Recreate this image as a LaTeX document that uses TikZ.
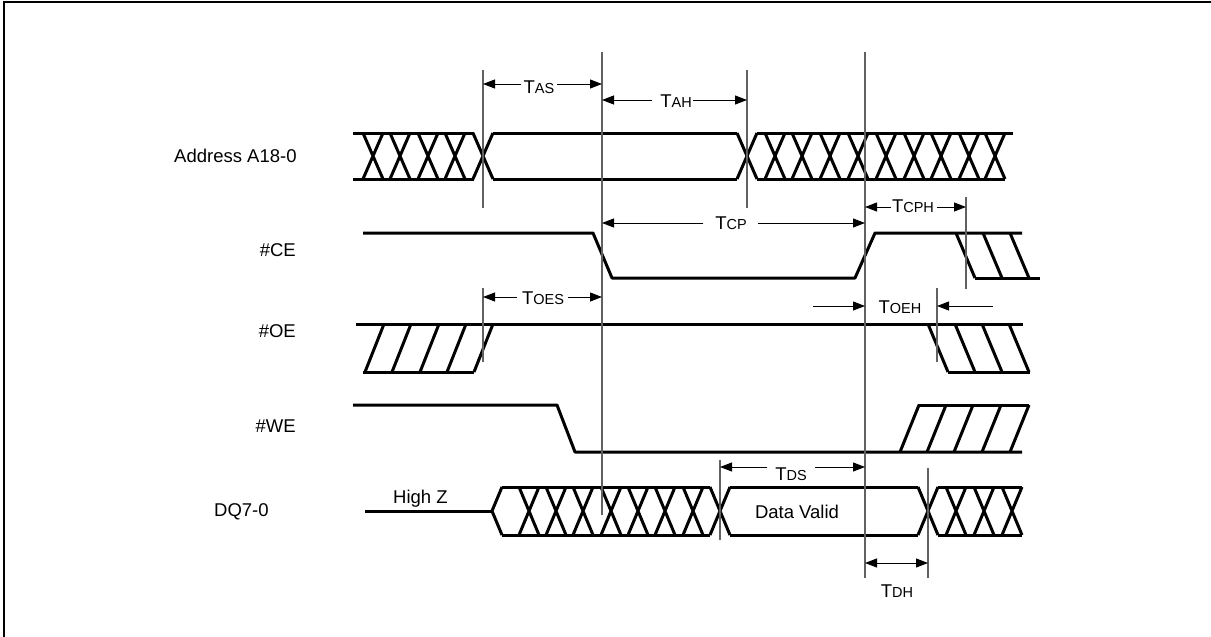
\documentclass[tikz,border=0pt]{standalone}
\usepackage{fontspec}
\setmainfont{Liberation Sans}
\usetikzlibrary{arrows.meta}
\newcommand{\tlab}[1]{T{\fontsize{14.5}{15}\selectfont #1}}
\begin{document}
\begin{tikzpicture}[x=1pt,y=-1pt,
  sig/.style={line width=3pt,line join=round},
  guide/.style={line width=1.1pt,draw=black!62},
  dim/.style={line width=1pt},
  tip/.style={dim,-{Triangle[length=12pt,width=9pt]}},
  dtip/.style={dim,{Triangle[length=12pt,width=9pt]}-{Triangle[length=12pt,width=9pt]}},
  lbl/.style={font=\fontsize{18.5}{20}\selectfont,inner sep=0pt},
  frame/.style={line width=2pt}]
\useasboundingbox (0,0) rectangle (1211,637);
% frame (top and left)
\coordinate (f1) at (3.5,637);
\coordinate (f2) at (3.5,1.5);
\coordinate (f3) at (1211,1.5);
\draw[frame] (f1) -- (f2) -- (f3);

% ---------- signal labels ----------
\node[lbl,anchor=base west] (lAddr) at (174,162) {Address A18-0};
\node[lbl,anchor=base east] (lCE) at (296,256) {\#CE};
\node[lbl,anchor=base east] (lOE) at (296,337) {\#OE};
\node[lbl,anchor=base east] (lWE) at (296,432) {\#WE};
\node[lbl,anchor=base west] (lDQ) at (214,516) {DQ7-0};
\node[lbl,anchor=base west] (lHZ) at (393,503) {High Z};
\node[lbl,anchor=base] (lDV) at (797,518) {Data Valid};

% ---------- Address bus ----------
\draw[sig] (353,133) -- (474,133) (353,179) -- (474,179);
\foreach \c in {373,400,428,455,483}
  \draw[sig] (\c-10,133) -- (\c+10,179) (\c-10,179) -- (\c+10,133);
\draw[sig] (493,133) -- (737,133) (493,179) -- (737,179);
\draw[sig] (757,133) -- (1013,133) (757,179) -- (1005,179);
\foreach \c in {747,775,802,830,858,886,914,941,969,995}
  \draw[sig] (\c-10,133) -- (\c+10,179) (\c-10,179) -- (\c+10,133);

% ---------- #CE ----------
\draw[sig] (363,233) -- (593,233) -- (612,278) -- (855,278) -- (875,233) -- (1022,233);
\draw[sig] (975,278) -- (1040,278);
\foreach \c in {956,983,1010}
  \draw[sig] (\c,233) -- (\c+19,278);

% ---------- #OE ----------
\draw[sig] (356,324) -- (1023,324);
\draw[sig] (363,372) -- (474,372);
\foreach \c in {365,392,420,447,474}
  \draw[sig] (\c,372) -- (\c+19,324);
\draw[sig] (948,372) -- (1030,372);
\foreach \c in {928,955,982,1009}
  \draw[sig] (\c,324) -- (\c+20,372);

% ---------- #WE ----------
\draw[sig] (353,405) -- (557,405) -- (575,452) -- (1022,452);
\draw[sig] (918,405) -- (1029,405);
\foreach \c in {900,927,954,982,1010}
  \draw[sig] (\c,452) -- (\c+19,405);

% ---------- DQ7-0 ----------
\draw[sig] (365,511) -- (492,511);
\draw[sig] (502,487) -- (492,511) -- (502,535);
\draw[sig] (502,487) -- (710,487) (502,535) -- (710,535);
\foreach \c in {529,556,583,611,638,665,693,720}
  \draw[sig] (\c-10,487) -- (\c+10,535) (\c-10,535) -- (\c+10,487);
\draw[sig] (730,487) -- (918,487) (730,535) -- (918,535);
\draw[sig] (938,487) -- (1022,487) (938,535) -- (1022,535);
\foreach \c in {928,956,984,1012}
  \draw[sig] (\c-10,487) -- (\c+10,535) (\c-10,535) -- (\c+10,487);

% ---------- guide lines ----------
\coordinate (g1a) at (483,70);  \coordinate (g1b) at (483,208);
\coordinate (g2a) at (602,52);  \coordinate (g2b) at (602,515);
\coordinate (g3a) at (747,70);  \coordinate (g3b) at (747,208);
\coordinate (g4a) at (865,52);  \coordinate (g4b) at (865,578);
\coordinate (g5a) at (966,197); \coordinate (g5b) at (966,289);
\coordinate (g6a) at (483,288); \coordinate (g6b) at (483,362);
\coordinate (g7a) at (937,288); \coordinate (g7b) at (937,362);
\coordinate (g8a) at (720,460); \coordinate (g8b) at (720,540);
\coordinate (g9a) at (928,468); \coordinate (g9b) at (928,578);
\foreach \g in {1,...,9} \draw[guide] (g\g a) -- (g\g b);

% ---------- timing dimensions ----------
% TAS
\coordinate (asL) at (483,84); \coordinate (asA) at (521,84);
\coordinate (asB) at (557,84); \coordinate (asR) at (602,84);
\draw[tip] (asA) -- (asL); \draw[tip] (asB) -- (asR);
\node[lbl,anchor=base] (tAS) at (539,93) {\tlab{AS}};
% TAH
\coordinate (ahL) at (602,100); \coordinate (ahA) at (652,100);
\coordinate (ahB) at (693,100); \coordinate (ahR) at (747,100);
\draw[tip] (ahA) -- (ahL); \draw[tip] (ahB) -- (ahR);
\node[lbl,anchor=base] (tAH) at (676,107) {\tlab{AH}};
% TCP
\coordinate (cpL) at (602,223); \coordinate (cpA) at (703,223);
\coordinate (cpB) at (758,223); \coordinate (cpR) at (865,223);
\draw[tip] (cpA) -- (cpL); \draw[tip] (cpB) -- (cpR);
\node[lbl,anchor=base] (tCP) at (731,229) {\tlab{CP}};
% TCPH
\coordinate (chL) at (865,207); \coordinate (chA) at (891,207);
\coordinate (chB) at (937,207); \coordinate (chR) at (966,207);
\draw[tip] (chA) -- (chL); \draw[tip] (chB) -- (chR);
\node[lbl,anchor=base] (tCPH) at (913,212) {\tlab{CPH}};
% TOES
\coordinate (oeL) at (483,297); \coordinate (oeA) at (517,297);
\coordinate (oeB) at (568,297); \coordinate (oeR) at (602,297);
\draw[tip] (oeA) -- (oeL); \draw[tip] (oeB) -- (oeR);
\node[lbl,anchor=base] (tOES) at (543,304) {\tlab{OES}};
% TOEH
\coordinate (ohA) at (813,306); \coordinate (ohL) at (865,306);
\coordinate (ohB) at (993,306); \coordinate (ohR) at (937,306);
\draw[tip] (ohA) -- (ohL); \draw[tip] (ohB) -- (ohR);
\node[lbl,anchor=base] (tOEH) at (900,313) {\tlab{OEH}};
% TDS
\coordinate (dsL) at (720,467); \coordinate (dsA) at (767,467);
\coordinate (dsB) at (815,467); \coordinate (dsR) at (865,467);
\draw[tip] (dsA) -- (dsL); \draw[tip] (dsB) -- (dsR);
\node[lbl,anchor=base] (tDS) at (791,480) {\tlab{DS}};
% TDH
\coordinate (dhL) at (865,563); \coordinate (dhR) at (928,563);
\draw[dtip] (dhL) -- (dhR);
\node[lbl,anchor=base] (tDH) at (897,597) {\tlab{DH}};
\end{tikzpicture}
\end{document}
